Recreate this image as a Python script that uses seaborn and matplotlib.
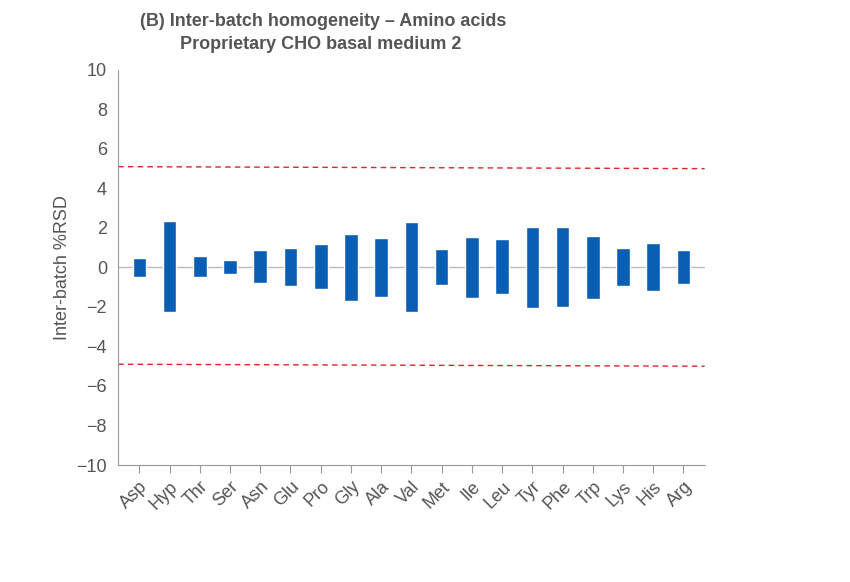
import seaborn as sns
import pandas as pd
import matplotlib.pyplot as plt

amino = ['Asp', 'Hyp', 'Thr', 'Ser', 'Asn', 'Glu', 'Pro', 'Gly', 'Ala', 'Val',
         'Met', 'Ile', 'Leu', 'Tyr', 'Phe', 'Trp', 'Lys', 'His', 'Arg']
rsd_high = [0.5, 2.33, 0.58, 0.4, 0.88, 1.0, 1.2, 1.7, 1.5, 2.28,
            0.92, 1.55, 1.45, 2.07, 2.07, 1.6, 0.97, 1.25, 0.88]
rsd_low = [-0.5, -2.28, -0.5, -0.35, -0.8, -0.95, -1.1, -1.7, -1.5, -2.25,
           -0.9, -1.55, -1.35, -2.07, -2.0, -1.58, -0.92, -1.2, -0.85]
upper_limit = [5.1, 5.0]
lower_limit = [-4.9, -5.0]

df = pd.DataFrame({'amino': amino, 'high': rsd_high, 'low': rsd_low})

sns.set_style('white')
plt.rcParams['font.family'] = ['Liberation Sans', 'DejaVu Sans']
grey = '#555555'

fig = plt.figure(figsize=(8.5, 5.82), dpi=100)
ax = fig.add_axes([0.139, 0.201, 0.69, 0.679])

ax.axhline(0, color='#bbbbbb', lw=1, zorder=1)
ax.bar(df['amino'], df['high'] - df['low'], bottom=df['low'], width=0.45,
       color='#0a5fb4', zorder=2)
ax.set_xlim(-0.7, len(amino) - 0.3)
ax.plot(ax.get_xlim(), upper_limit, color='#e0242a', ls=(0, (4, 3)), lw=1)
ax.plot(ax.get_xlim(), lower_limit, color='#e0242a', ls=(0, (4, 3)), lw=1)

ax.set_ylim(-10, 10)
ax.set_yticks(range(-10, 11, 2))
ax.set_ylabel('Inter-batch %RSD', color=grey, fontsize=13)
ax.tick_params(axis='y', colors=grey, labelsize=13, length=0, pad=8)
ax.tick_params(axis='x', colors=grey, labelsize=13, length=6, direction='out',
               bottom=True, color='#999999')
plt.setp(ax.get_xticklabels(), rotation=45, ha='right', rotation_mode='anchor')
sns.despine(ax=ax)
for s in ['left', 'bottom']:
    ax.spines[s].set_color('#999999')

fig.text(0.165, 0.955, '(B) Inter-batch homogeneity \u2013 Amino acids',
         fontsize=13, fontweight='bold', color=grey)
fig.text(0.212, 0.915, 'Proprietary CHO basal medium 2',
         fontsize=13, fontweight='bold', color=grey)

fig.savefig('out.png', dpi=100)
